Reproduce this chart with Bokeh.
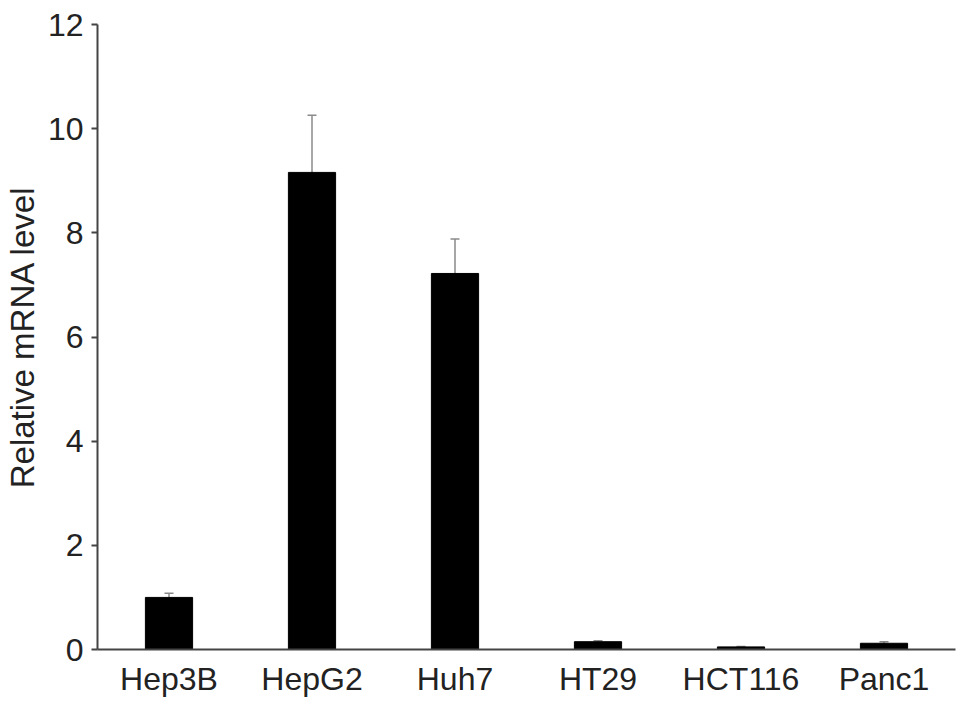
from bokeh.plotting import figure
from bokeh.models import FactorRange, Range1d, ColumnDataSource, Whisker, FixedTicker, TeeHead
from bokeh.embed import file_html
from bokeh.resources import INLINE

cells = ["Hep3B", "HepG2", "Huh7", "HT29", "HCT116", "Panc1"]
means = [1.0, 9.16, 7.22, 0.15, 0.05, 0.12]
errors = [0.08, 1.1, 0.66, 0.02, 0.01, 0.03]
y_ticks = [0, 2, 4, 6, 8, 10, 12]

src = ColumnDataSource(dict(
    x=cells, top=means,
    lower=[m - e for m, e in zip(means, errors)],
    upper=[m + e for m, e in zip(means, errors)],
))

p = figure(x_range=FactorRange(*cells, range_padding=0), y_range=Range1d(0, 12),
           width=969, height=709, output_backend="svg", toolbar_location=None,
           min_border_left=97, min_border_right=14, min_border_top=24, min_border_bottom=60)
p.outline_line_color = None
p.xgrid.grid_line_color = None
p.ygrid.grid_line_color = None
p.background_fill_color = "white"
p.border_fill_color = "white"

p.vbar(x="x", top="top", width=0.33, source=src, fill_color="black", line_color="black")
w = Whisker(base="x", lower="lower", upper="upper", source=src, line_color="#8a8a8a", line_width=1.5,
            upper_head=TeeHead(size=9, line_color="#8a8a8a", line_width=1.5),
            lower_head=TeeHead(size=9, line_color="#8a8a8a", line_width=1.5))
p.add_layout(w)

font = "Liberation Sans"
for ax in (p.xaxis[0], p.yaxis[0]):
    ax.axis_line_color = "#444444"
    ax.axis_line_width = 2
    ax.major_label_text_font = font
    ax.major_label_text_font_size = "32px"
    ax.major_label_text_color = "#222222"
    ax.axis_label_text_font = font
    ax.axis_label_text_font_style = "normal"
    ax.axis_label_text_color = "#222222"

p.xaxis.major_tick_line_color = None
p.xaxis.minor_tick_line_color = None
p.xaxis.major_label_standoff = 5

p.yaxis.ticker = FixedTicker(ticks=y_ticks)
p.yaxis.minor_tick_line_color = None
p.yaxis.major_tick_line_color = "#444444"
p.yaxis.major_tick_line_width = 2
p.yaxis.major_tick_out = 6
p.yaxis.major_tick_in = 0
p.yaxis.major_label_standoff = 8
p.yaxis.axis_label = "Relative mRNA level"
p.yaxis.axis_label_text_font_size = "33px"
p.yaxis.axis_label_standoff = 4

open("out.html", "w").write(file_html(p, INLINE))
